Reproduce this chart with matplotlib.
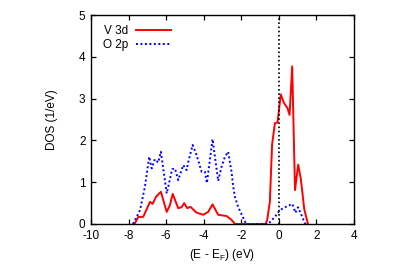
import matplotlib
matplotlib.use("Agg")
import matplotlib.pyplot as plt

plt.rcParams['font.family'] = ['Liberation Sans', 'DejaVu Sans']
plt.rcParams['axes.unicode_minus'] = False

v3d_x = [-7.75, -7.66, -7.48, -7.22, -6.86, -6.72, -6.54, -6.28, -5.97, -5.80, -5.65,
         -5.36, -5.18, -5.04, -4.88, -4.70, -4.41, -4.03, -3.76, -3.53, -3.23, -2.78,
         -2.52, -2.34, -0.70, -0.62, -0.48, -0.36, -0.21, -0.07, 0.10, 0.28, 0.46,
         0.57, 0.71, 0.86, 1.03, 1.17, 1.35, 1.55]
v3d_y = [0.0, 0.02, 0.17, 0.17, 0.53, 0.48, 0.65, 0.77, 0.29, 0.45, 0.72,
         0.38, 0.40, 0.50, 0.38, 0.41, 0.28, 0.22, 0.29, 0.47, 0.22, 0.19,
         0.10, 0.0, 0.0, 0.1, 0.53, 1.90, 2.41, 2.43, 3.10, 2.89, 2.77,
         2.61, 3.77, 0.81, 1.42, 1.08, 0.36, 0.0]

o2p_x = [-7.76, -7.39, -7.13, -6.90, -6.77, -6.60, -6.42, -6.28, -5.97, -5.68, -5.53,
         -5.36, -5.09, -4.91, -4.82, -4.59, -4.38, -4.11, -3.94, -3.83, -3.53, -3.23,
         -3.05, -2.87, -2.70, -2.52, -2.43, -2.34, -2.16, -2.00, -1.90, -1.74, -0.57,
         -0.21, 0.05, 0.32, 0.72, 0.88, 1.02, 1.20, 1.37, 1.45]
o2p_y = [0.0, 0.33, 0.89, 1.61, 1.33, 1.55, 1.47, 1.73, 0.73, 1.31, 1.33,
         1.05, 1.41, 1.29, 1.49, 1.89, 1.65, 1.25, 1.25, 0.98, 2.03, 1.03,
         1.37, 1.61, 1.73, 1.25, 0.90, 0.65, 0.40, 0.25, 0.15, 0.0, 0.0,
         0.17, 0.33, 0.40, 0.48, 0.27, 0.40, 0.22, 0.03, 0.0]

x_ticks = [-10, -8, -6, -4, -2, 0, 2, 4]
y_ticks = [0, 1, 2, 3, 4, 5]

fig = plt.figure(figsize=(3.99, 2.79), dpi=100)
ax = fig.add_axes([91/399, 1-224/279, (354-91)/399, (224-15)/279])

ax.plot(v3d_x, v3d_y, color='#ff0000', lw=1.4, label='V 3d')
ax.plot(o2p_x, o2p_y, color='#0000ff', lw=1.4, ls=(0, (1, 1.3)), label='O 2p')
ax.axvline(0, color='black', lw=1.2, ls=(0, (1, 1.5)))

ax.set_xlim(-10, 4)
ax.set_ylim(0, 5)
ax.set_xticks(x_ticks)
ax.set_xticklabels([str(t) for t in x_ticks])
ax.set_yticks(y_ticks)
ax.set_yticklabels([str(t) for t in y_ticks])
ax.tick_params(direction='in', length=3.5, width=0.9, top=True, right=True,
               labelsize=8.5, colors='black', pad=4)
for s in ax.spines.values():
    s.set_linewidth(1.0)
    s.set_zorder(3)

ax.set_xlabel('(E - E$_\\mathregular{F}$) (eV)', fontsize=8.5, labelpad=4)
ax.set_ylabel('DOS (1/eV)', fontsize=8.5, labelpad=15)

leg = ax.legend(loc='upper left', bbox_to_anchor=(0.02, 0.985), frameon=False,
                markerfirst=False, fontsize=8.5, handlelength=3.0,
                handletextpad=0.6, labelspacing=0.15, borderaxespad=0.2)

fig.savefig('out.png', dpi=100)
